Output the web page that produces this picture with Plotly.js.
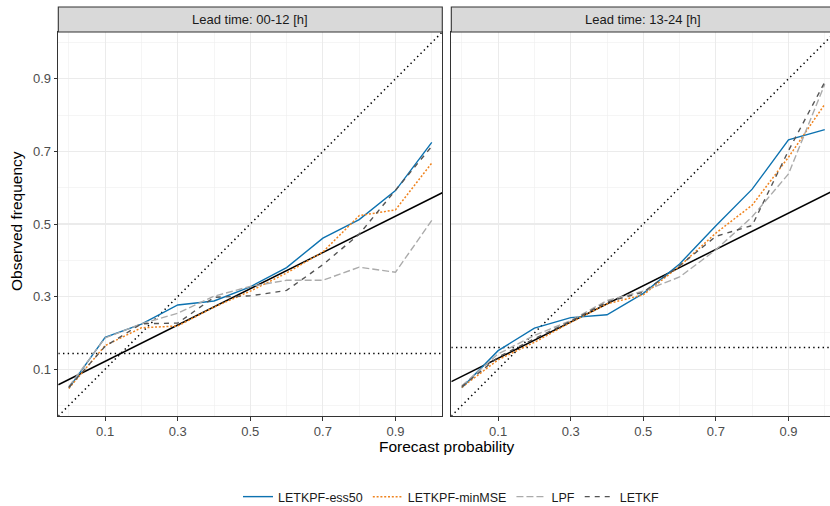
<!DOCTYPE html>
<html>
<head>
<meta charset="utf-8">
<script src="https://cdn.plot.ly/plotly-3.0.1.min.js"></script>
<style>
html,body{margin:0;padding:0;overflow:hidden;background:#fff;}
#chart{width:840px;height:506px;}
</style>
</head>
<body>
<div id="chart"></div>
<script>
// ---- data ----
const forecastProb = [0, 0.1, 0.2, 0.3, 0.4, 0.5, 0.6, 0.7, 0.8, 0.9, 1.0];
const panelTitles = ["Lead time: 00-12 [h]", "Lead time: 13-24 [h]"];
const seriesNames = ["LETKPF-ess50", "LETKPF-minMSE", "LPF", "LETKF"];

// Lead time 00-12
const ess50_00_12  = [0.048, 0.188, 0.224, 0.277, 0.288, 0.327, 0.380, 0.461, 0.512, 0.592, 0.725];
const minMSE_00_12 = [0.047, 0.165, 0.214, 0.219, 0.271, 0.315, 0.365, 0.423, 0.523, 0.539, 0.668];
const lpf_00_12    = [0.052, 0.186, 0.225, 0.254, 0.301, 0.328, 0.345, 0.345, 0.381, 0.367, 0.510];
const letkf_00_12  = [0.050, 0.163, 0.225, 0.227, 0.298, 0.302, 0.317, 0.388, 0.472, 0.592, 0.714];

// Lead time 13-24
const ess50_13_24  = [0.049, 0.151, 0.213, 0.242, 0.250, 0.309, 0.390, 0.495, 0.596, 0.732, 0.760];
const minMSE_13_24 = [0.050, 0.126, 0.174, 0.229, 0.280, 0.305, 0.384, 0.475, 0.552, 0.684, 0.830];
const lpf_13_24    = [0.054, 0.142, 0.193, 0.234, 0.289, 0.315, 0.354, 0.429, 0.520, 0.638, 0.885];
const letkf_13_24  = [0.052, 0.133, 0.184, 0.232, 0.285, 0.312, 0.385, 0.466, 0.496, 0.702, 0.891];

// climatological frequency per panel
const climatology = [0.143, 0.160];

const tickVals = [0.1, 0.3, 0.5, 0.7, 0.9];
const tickText = ["0.1", "0.3", "0.5", "0.7", "0.9"];
const minorVals = [0, 0.2, 0.4, 0.6, 0.8, 1.0];

// ---- styling ----
const W = 840, H = 506;
const FONT = "Liberation Sans, Arial, Helvetica, sans-serif";
const axRange = [-0.029, 1.029];
const styles = [
  {color: "#0D72B0", dash: "solid", width: 1.4},
  {color: "#F0841F", dash: "2px,1.8px", width: 1.5},
  {color: "#ABABAB", dash: "7px,3px", width: 1.4},
  {color: "#555555", dash: "5px,5px", width: 1.4}
];
const panels = [
  {series: [ess50_00_12, minMSE_00_12, lpf_00_12, letkf_00_12], xa: "x", ya: "y", dom: [58.3, 442.3]},
  {series: [ess50_13_24, minMSE_13_24, lpf_13_24, letkf_13_24], xa: "x2", ya: "y2", dom: [451.3, 835.3]}
];
const yDom = [1 - 416 / H, 1 - 32 / H];

const traces = [];
panels.forEach((p, i) => {
  const c = climatology[i];
  traces.push({x: axRange, y: axRange, xaxis: p.xa, yaxis: p.ya, mode: "lines", showlegend: false, hoverinfo: "skip",
    line: {color: "#000", width: 1.5, dash: "1.4px,3.3px"}});
  traces.push({x: axRange, y: [c, c], xaxis: p.xa, yaxis: p.ya, mode: "lines", showlegend: false, hoverinfo: "skip",
    line: {color: "#000", width: 1.5, dash: "1.4px,3.3px"}});
  traces.push({x: axRange, y: axRange.map(v => (v + c) / 2), xaxis: p.xa, yaxis: p.ya, mode: "lines", showlegend: false, hoverinfo: "skip",
    line: {color: "#000", width: 1.5}});
  p.series.forEach((s, k) => {
    traces.push({x: forecastProb, y: s, xaxis: p.xa, yaxis: p.ya, mode: "lines", name: seriesNames[k],
      legendgroup: seriesNames[k], showlegend: i === 0,
      line: {color: styles[k].color, width: styles[k].width, dash: styles[k].dash}});
  });
});

function axis(dom, anchor) {
  return {
    domain: dom, anchor: anchor, range: axRange, autorange: false, automargin: false,
    tickmode: "array", tickvals: tickVals, ticktext: tickText,
    ticks: "outside", ticklen: 3.5, tickwidth: 1, tickcolor: "#333333",
    tickfont: {family: FONT, size: 13, color: "#4D4D4D"},
    showgrid: true, gridcolor: "#EBEBEB", gridwidth: 1.1,
    minor: {tickvals: minorVals, showgrid: true, gridcolor: "#EFEFEF", gridwidth: 0.6, ticks: ""},
    showline: true, mirror: true, linecolor: "#333333", linewidth: 1.1,
    zeroline: false, fixedrange: true
  };
}

const shapes = [], annotations = [];
panels.forEach((p, i) => {
  shapes.push({type: "rect", xref: "paper", yref: "paper",
    x0: p.dom[0] / W, x1: p.dom[1] / W, y0: 1 - 32 / H, y1: 1 - 7 / H,
    fillcolor: "#D9D9D9", line: {color: "#333333", width: 1.1}, layer: "above"});
  annotations.push({xref: "paper", yref: "paper", x: (p.dom[0] + p.dom[1]) / 2 / W, y: 1 - 19.5 / H,
    text: panelTitles[i], showarrow: false, xanchor: "center", yanchor: "middle",
    font: {family: FONT, size: 13, color: "#1A1A1A"}});
});
annotations.push({xref: "paper", yref: "paper", x: 446.8 / W, y: 1 - 446 / H, text: "Forecast probability",
  showarrow: false, xanchor: "center", yanchor: "middle", font: {family: FONT, size: 15.5, color: "#000"}});
annotations.push({xref: "paper", yref: "paper", x: 17 / W, y: 1 - 221 / H, text: "Observed frequency",
  showarrow: false, textangle: -90, xanchor: "center", yanchor: "middle", font: {family: FONT, size: 15.5, color: "#000"}});

const layout = {
  width: W, height: H,
  margin: {l: 0, r: 0, t: 0, b: 0, pad: 0, autoexpand: false},
  paper_bgcolor: "#fff", plot_bgcolor: "#fff",
  font: {family: FONT},
  xaxis: axis([panels[0].dom[0] / W, panels[0].dom[1] / W], "y"),
  yaxis: axis(yDom, "x"),
  xaxis2: axis([panels[1].dom[0] / W, panels[1].dom[1] / W], "y2"),
  yaxis2: Object.assign(axis(yDom, "x2"), {showticklabels: false, ticks: ""}),
  showlegend: true,
  legend: {orientation: "h", x: 451 / W, xanchor: "center", y: 1 - 497 / H, yanchor: "middle",
    font: {family: FONT, size: 12.5, color: "#1A1A1A"}, bgcolor: "rgba(0,0,0,0)", itemwidth: 30, traceorder: "normal"},
  shapes: shapes, annotations: annotations
};

Plotly.newPlot("chart", traces, layout, {displayModeBar: false, staticPlot: true});
</script>
</body>
</html>
